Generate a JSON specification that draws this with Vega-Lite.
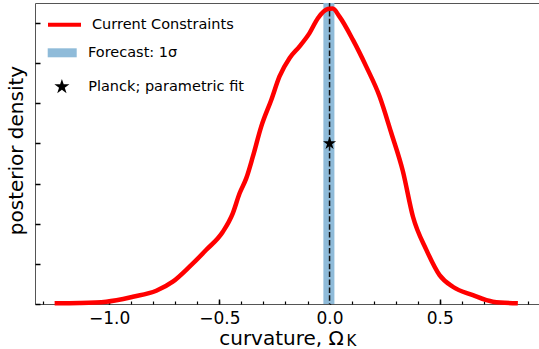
{
  "$schema": "https://vega.github.io/schema/vega-lite/v6.json",
  "width": 506,
  "height": 301,
  "autosize": {"type": "none"},
  "padding": {"left": 35, "top": 3, "right": 0, "bottom": 45},
  "config": {
    "view": {"stroke": "#555", "strokeWidth": 1},
    "font": "DejaVu Sans",
    "axis": {"grid": false, "domain": false, "tickColor": "black", "labelColor": "black", "titleColor": "black", "labelFont": "DejaVu Sans", "titleFont": "DejaVu Sans", "titleFontWeight": "normal"},
    "legend": {"labelFontSize": 14.5, "labelFont": "DejaVu Sans", "labelColor": "black", "padding": 0, "title": null}
  },
  "datasets": {
    "curve": [
      {"x": -1.247, "y": 0.017, "series": "Current Constraints"},
      {"x": -1.134, "y": 0.025, "series": "Current Constraints"},
      {"x": -1.013, "y": 0.057, "series": "Current Constraints"},
      {"x": -0.892, "y": 0.18, "series": "Current Constraints"},
      {"x": -0.786, "y": 0.33, "series": "Current Constraints"},
      {"x": -0.711, "y": 0.556, "series": "Current Constraints"},
      {"x": -0.635, "y": 0.93, "series": "Current Constraints"},
      {"x": -0.559, "y": 1.35, "series": "Current Constraints"},
      {"x": -0.484, "y": 1.8, "series": "Current Constraints"},
      {"x": -0.439, "y": 2.26, "series": "Current Constraints"},
      {"x": -0.408, "y": 2.76, "series": "Current Constraints"},
      {"x": -0.378, "y": 3.13, "series": "Current Constraints"},
      {"x": -0.348, "y": 3.67, "series": "Current Constraints"},
      {"x": -0.31, "y": 4.42, "series": "Current Constraints"},
      {"x": -0.264, "y": 5.09, "series": "Current Constraints"},
      {"x": -0.227, "y": 5.67, "series": "Current Constraints"},
      {"x": -0.181, "y": 6.13, "series": "Current Constraints"},
      {"x": -0.136, "y": 6.42, "series": "Current Constraints"},
      {"x": -0.091, "y": 6.75, "series": "Current Constraints"},
      {"x": -0.053, "y": 7.12, "series": "Current Constraints"},
      {"x": -0.008, "y": 7.35, "series": "Current Constraints"},
      {"x": 0.014, "y": 7.36, "series": "Current Constraints"},
      {"x": 0.045, "y": 7.16, "series": "Current Constraints"},
      {"x": 0.106, "y": 6.58, "series": "Current Constraints"},
      {"x": 0.166, "y": 5.92, "series": "Current Constraints"},
      {"x": 0.227, "y": 5.17, "series": "Current Constraints"},
      {"x": 0.28, "y": 4.26, "series": "Current Constraints"},
      {"x": 0.332, "y": 3.32, "series": "Current Constraints"},
      {"x": 0.378, "y": 2.18, "series": "Current Constraints"},
      {"x": 0.439, "y": 1.35, "series": "Current Constraints"},
      {"x": 0.499, "y": 0.72, "series": "Current Constraints"},
      {"x": 0.559, "y": 0.43, "series": "Current Constraints"},
      {"x": 0.65, "y": 0.22, "series": "Current Constraints"},
      {"x": 0.741, "y": 0.057, "series": "Current Constraints"},
      {"x": 0.854, "y": 0.017, "series": "Current Constraints"}
    ],
    "band": [{"lo": -0.028, "hi": 0.022, "band": "Forecast: 1σ"}],
    "center": [{"x": 0.0}],
    "fit": [{"x": 0.0, "y": 4.0, "pt": "Planck; parametric fit"}]
  },
  "layer": [
    {
      "data": {"name": "band"},
      "mark": {"type": "rect", "opacity": 1},
      "encoding": {
        "x": {
          "field": "lo", "type": "quantitative",
          "scale": {"domain": [-1.336, 0.959], "nice": false, "zero": false},
          "axis": {"orient": "bottom", "values": [-1, -0.5, 0, 0.5], "format": ".1f", "labelFontSize": 17, "labelPadding": 11, "tickSize": -5, "tickWidth": 1.5, "title": "curvature, Ω", "titleFontSize": 20, "titleX": 246, "titleY": 40.5, "titleAlign": "center", "titleBaseline": "alphabetic"}
        },
        "x2": {"field": "hi"},
        "fill": {
          "field": "band", "type": "nominal",
          "scale": {"range": ["#8fbbd9"]},
          "legend": {"orient": "none", "legendX": 12.7, "legendY": 35.3, "symbolType": "M-1,-0.31H1V0.31H-1Z", "symbolSize": 841, "symbolStrokeWidth": 0, "symbolOpacity": 1, "labelOffset": 11.3}
        }
      }
    },
    {
      "data": {"name": "center"},
      "mark": {"type": "rule", "color": "#111", "strokeWidth": 1.5, "strokeDash": [5.5, 2.4]},
      "encoding": {
        "x": {
          "field": "x", "type": "quantitative",
          "axis": {"orient": "bottom", "values": [-1.3, -1.2, -1.1, -1.0, -0.9, -0.8, -0.7, -0.6, -0.5, -0.4, -0.3, -0.2, -0.1, 0.0, 0.1, 0.2, 0.3, 0.4, 0.5, 0.6, 0.7, 0.8, 0.9], "labels": false, "tickSize": -3, "tickWidth": 1.2, "title": "K", "titleFontSize": 15, "titleX": 311, "titleY": 41.5, "titleAlign": "left", "titleBaseline": "alphabetic"}
        }
      }
    },
    {
      "data": {"name": "curve"},
      "mark": {"type": "line", "strokeWidth": 4.5, "interpolate": "monotone"},
      "encoding": {
        "x": {"field": "x", "type": "quantitative", "axis": null},
        "y": {
          "field": "y", "type": "quantitative",
          "scale": {"domain": [0, 7.5], "nice": false},
          "axis": {"values": [0, 1, 2, 3, 4, 5, 6, 7], "labels": false, "tickSize": -5, "tickWidth": 1.5, "title": "posterior density", "titleFontSize": 20, "titleAngle": -90, "titleX": -13, "titleY": 147, "titleAlign": "center", "titleBaseline": "alphabetic"}
        },
        "stroke": {
          "field": "series", "type": "nominal",
          "scale": {"range": ["#ff0000"]},
          "legend": {"orient": "none", "legendX": 11, "legendY": 3.2, "symbolType": "stroke", "symbolSize": 1089, "symbolStrokeWidth": 4, "labelOffset": 9}
        }
      }
    },
    {
      "data": {"name": "fit"},
      "mark": {"type": "point", "filled": true, "color": "black", "opacity": 1, "size": 190},
      "encoding": {
        "x": {"field": "x", "type": "quantitative", "axis": null},
        "y": {"field": "y", "type": "quantitative"},
        "shape": {
          "field": "pt", "type": "nominal",
          "scale": {"range": ["M0,-1L0.2245,-0.309L0.951,-0.309L0.363,0.118L0.588,0.809L0,0.382L-0.588,0.809L-0.363,0.118L-0.951,-0.309L-0.2245,-0.309Z"]},
          "legend": {"orient": "none", "legendX": 18.9, "legendY": 75.8, "symbolSize": 250, "symbolFillColor": "black", "symbolStrokeColor": "black", "symbolStrokeWidth": 0, "labelOffset": 18.3}
        }
      }
    }
  ],
  "resolve": {"axis": {"x": "independent"}}
}
